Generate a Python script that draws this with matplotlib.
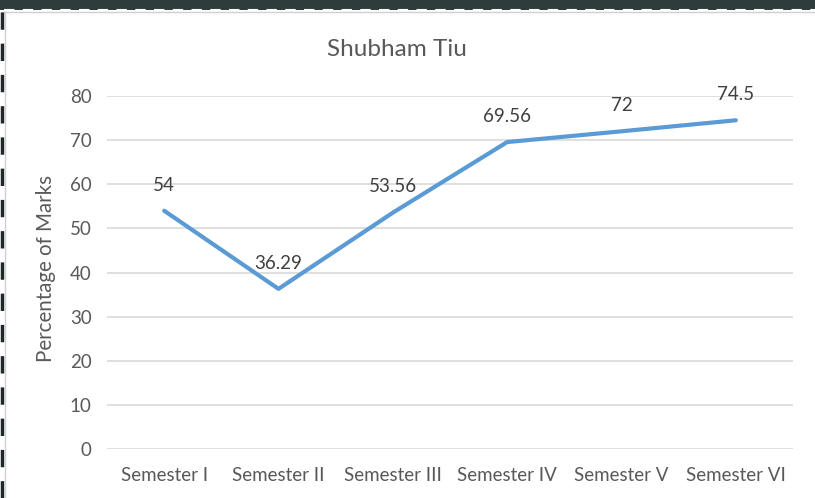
import matplotlib
matplotlib.use("Agg")
import matplotlib.pyplot as plt
from matplotlib.patches import Rectangle
from matplotlib.lines import Line2D

# chart data
semesters = ["Semester I", "Semester II", "Semester III", "Semester IV", "Semester V", "Semester VI"]
marks = [54, 36.29, 53.56, 69.56, 72, 74.5]
mark_labels = ["54", "36.29", "53.56", "69.56", "72", "74.5"]
yticks = [0, 10, 20, 30, 40, 50, 60, 70, 80]

plt.rcParams['font.family'] = ['Lato', 'DejaVu Sans']

W, H = 815, 498
fig = plt.figure(figsize=(W / 100, H / 100), dpi=100)
fig.patch.set_facecolor("white")

# dark strip on top and dashed frame, like the screenshot
fig.patches.append(Rectangle((0, 1 - 10 / H), 1, 10 / H, transform=fig.transFigure,
                             facecolor="#2f3c3c", edgecolor="none", zorder=0))
fig.lines.append(Line2D([4 / W, 1], [1 - 10.5 / H] * 2, transform=fig.transFigure,
                        color="white", lw=1.5, ls=(0, (5, 4))))
fig.lines.append(Line2D([4 / W, 1], [1 - 12.5 / H] * 2, transform=fig.transFigure,
                        color="#d0d0d0", lw=1))
fig.lines.append(Line2D([1.5 / W] * 2, [0, 1 - 10 / H], transform=fig.transFigure,
                        color="#1e2828", lw=2.5, ls=(0, (5, 4))))
fig.lines.append(Line2D([4.5 / W] * 2, [0, 1 - 12 / H], transform=fig.transFigure,
                        color="#d0d0d0", lw=1))

ax = fig.add_axes([107 / W, 1 - 449 / H, 686 / W, (449 - 96) / H])
x = list(range(len(semesters)))
ax.plot(x, marks, color="#5b9bd5", lw=3, solid_capstyle="round", solid_joinstyle="round", zorder=3)

for xi, yi, lab in zip(x, marks, mark_labels):
    ax.annotate(lab, (xi, yi), xytext=(0, 18.5), textcoords="offset points",
                ha="center", va="center", fontsize=13.5, color="#404040", zorder=4)

ax.set_xlim(-0.5, len(semesters) - 0.5)
ax.set_ylim(0, 80)
ax.set_yticks(yticks)
ax.set_xticks(x)
ax.set_xticklabels(semesters)
ax.grid(axis="y", color="#d9d9d9", lw=1.2)
ax.set_axisbelow(True)
for s in ax.spines.values():
    s.set_visible(False)
ax.tick_params(length=0, colors="#595959", labelsize=13.5)
ax.tick_params(axis="y", pad=11)
ax.tick_params(axis="x", pad=13)
ax.set_ylabel("Percentage of Marks", fontsize=14.8, color="#595959")
ax.yaxis.set_label_coords(-0.075, 0.51)

fig.text(397 / W, 1 - 50 / H, "Shubham Tiu", ha="center", va="center",
         fontsize=17.5, color="#595959")

fig.savefig("out.png", dpi=100)
